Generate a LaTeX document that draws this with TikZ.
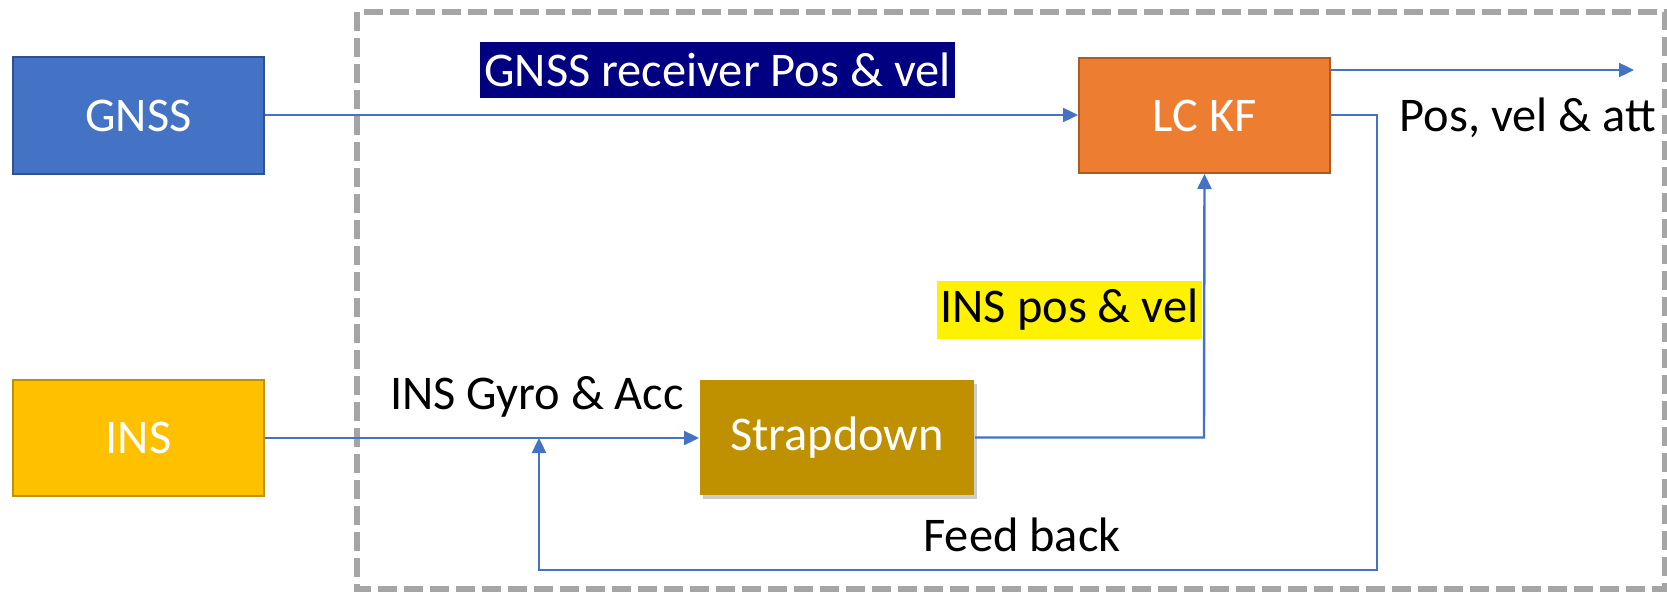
\documentclass[tikz,border=0pt]{standalone}
\usepackage{fontspec}
\setmainfont{Carlito}
\usetikzlibrary{arrows.meta,shadows}
\definecolor{gblue}{HTML}{4472C4}
\definecolor{gblueB}{HTML}{2F528F}
\definecolor{korange}{HTML}{ED7D31}
\definecolor{korangeB}{HTML}{AE5A21}
\definecolor{iyellow}{HTML}{FFC000}
\definecolor{iyellowB}{HTML}{BF9000}
\definecolor{sgold}{HTML}{BF9000}
\definecolor{navybg}{HTML}{000080}
\definecolor{dgray}{HTML}{A5A5A5}
\tikzset{
  blk/.style={rectangle, draw, line width=1pt, text=white, font=\fontsize{24.2}{29}\selectfont, inner sep=0pt},
  conn/.style={draw=gblue, line width=1.2pt},
  arr/.style={conn, -{Triangle[length=7.5pt,width=7pt]}},
  lbl/.style={font=\fontsize{24.2}{29}\selectfont, inner sep=2pt},
}
\begin{document}
\begin{tikzpicture}[x=0.5pt,y=-0.5pt]
\useasboundingbox (0,0) rectangle (1667,594);
% dashed frame
\draw[dgray, line width=3pt, dash pattern=on 9.5pt off 3.5pt] (357,12) rectangle (1665,589);
% blocks
\node[blk, fill=gblue, draw=gblueB, minimum width=125.5pt, minimum height=58.5pt] (gnss) at (138.5,115.5) {GNSS};
\node[blk, fill=korange, draw=korangeB, minimum width=125.5pt, minimum height=57.5pt] (kf) at (1204.5,115.5) {LC KF};
\node[blk, fill=iyellow, draw=iyellowB, minimum width=125.5pt, minimum height=58pt] (ins) at (138.5,438) {INS};
\node[blk, fill=sgold, draw=none, minimum width=137pt, minimum height=57.5pt,
      drop shadow={opacity=0.4, shadow xshift=1.5pt, shadow yshift=-2pt}] (sd) at (837,437.5) {Strapdown};
% labels
\node[lbl, fill=navybg, text=white, minimum width=231.5pt, minimum height=28pt] (lgnss) at (717.5,70) {GNSS receiver Pos \& vel};
\node[lbl, fill=yellow, text=black, minimum width=128.5pt, minimum height=29pt] (lins) at (1069.5,309.5) {INS pos \& vel};
\node[lbl] (lgyro) at (537,397) {INS Gyro \& Acc};
\node[lbl] (lfb) at (1022,535) {Feed back};
\node[lbl] (lout) at (1528,118) {Pos, vel \& att};
% coordinates
\coordinate (outend) at (1634,70);
\coordinate (fbR) at (1377,115);
\coordinate (fbRB) at (1377,570);
\coordinate (fbLB) at (539,570);
\coordinate (fbtip) at (539,438);
\coordinate (sdR) at (1204,437.5);
% connectors
\draw[arr] (gnss.east |- 0,115) -- (kf.west |- 0,115);
\draw[arr] (kf.east |- 0,70) -- (outend);
\draw[arr] (kf.east |- 0,115) -- (fbR) -- (fbRB) -- (fbLB) -- (fbtip);
\draw[arr] (ins.east) -- (sd.west |- ins.east);
\draw[arr] (sd.east) -- (sdR) -- (kf.south);
\end{tikzpicture}
\end{document}
